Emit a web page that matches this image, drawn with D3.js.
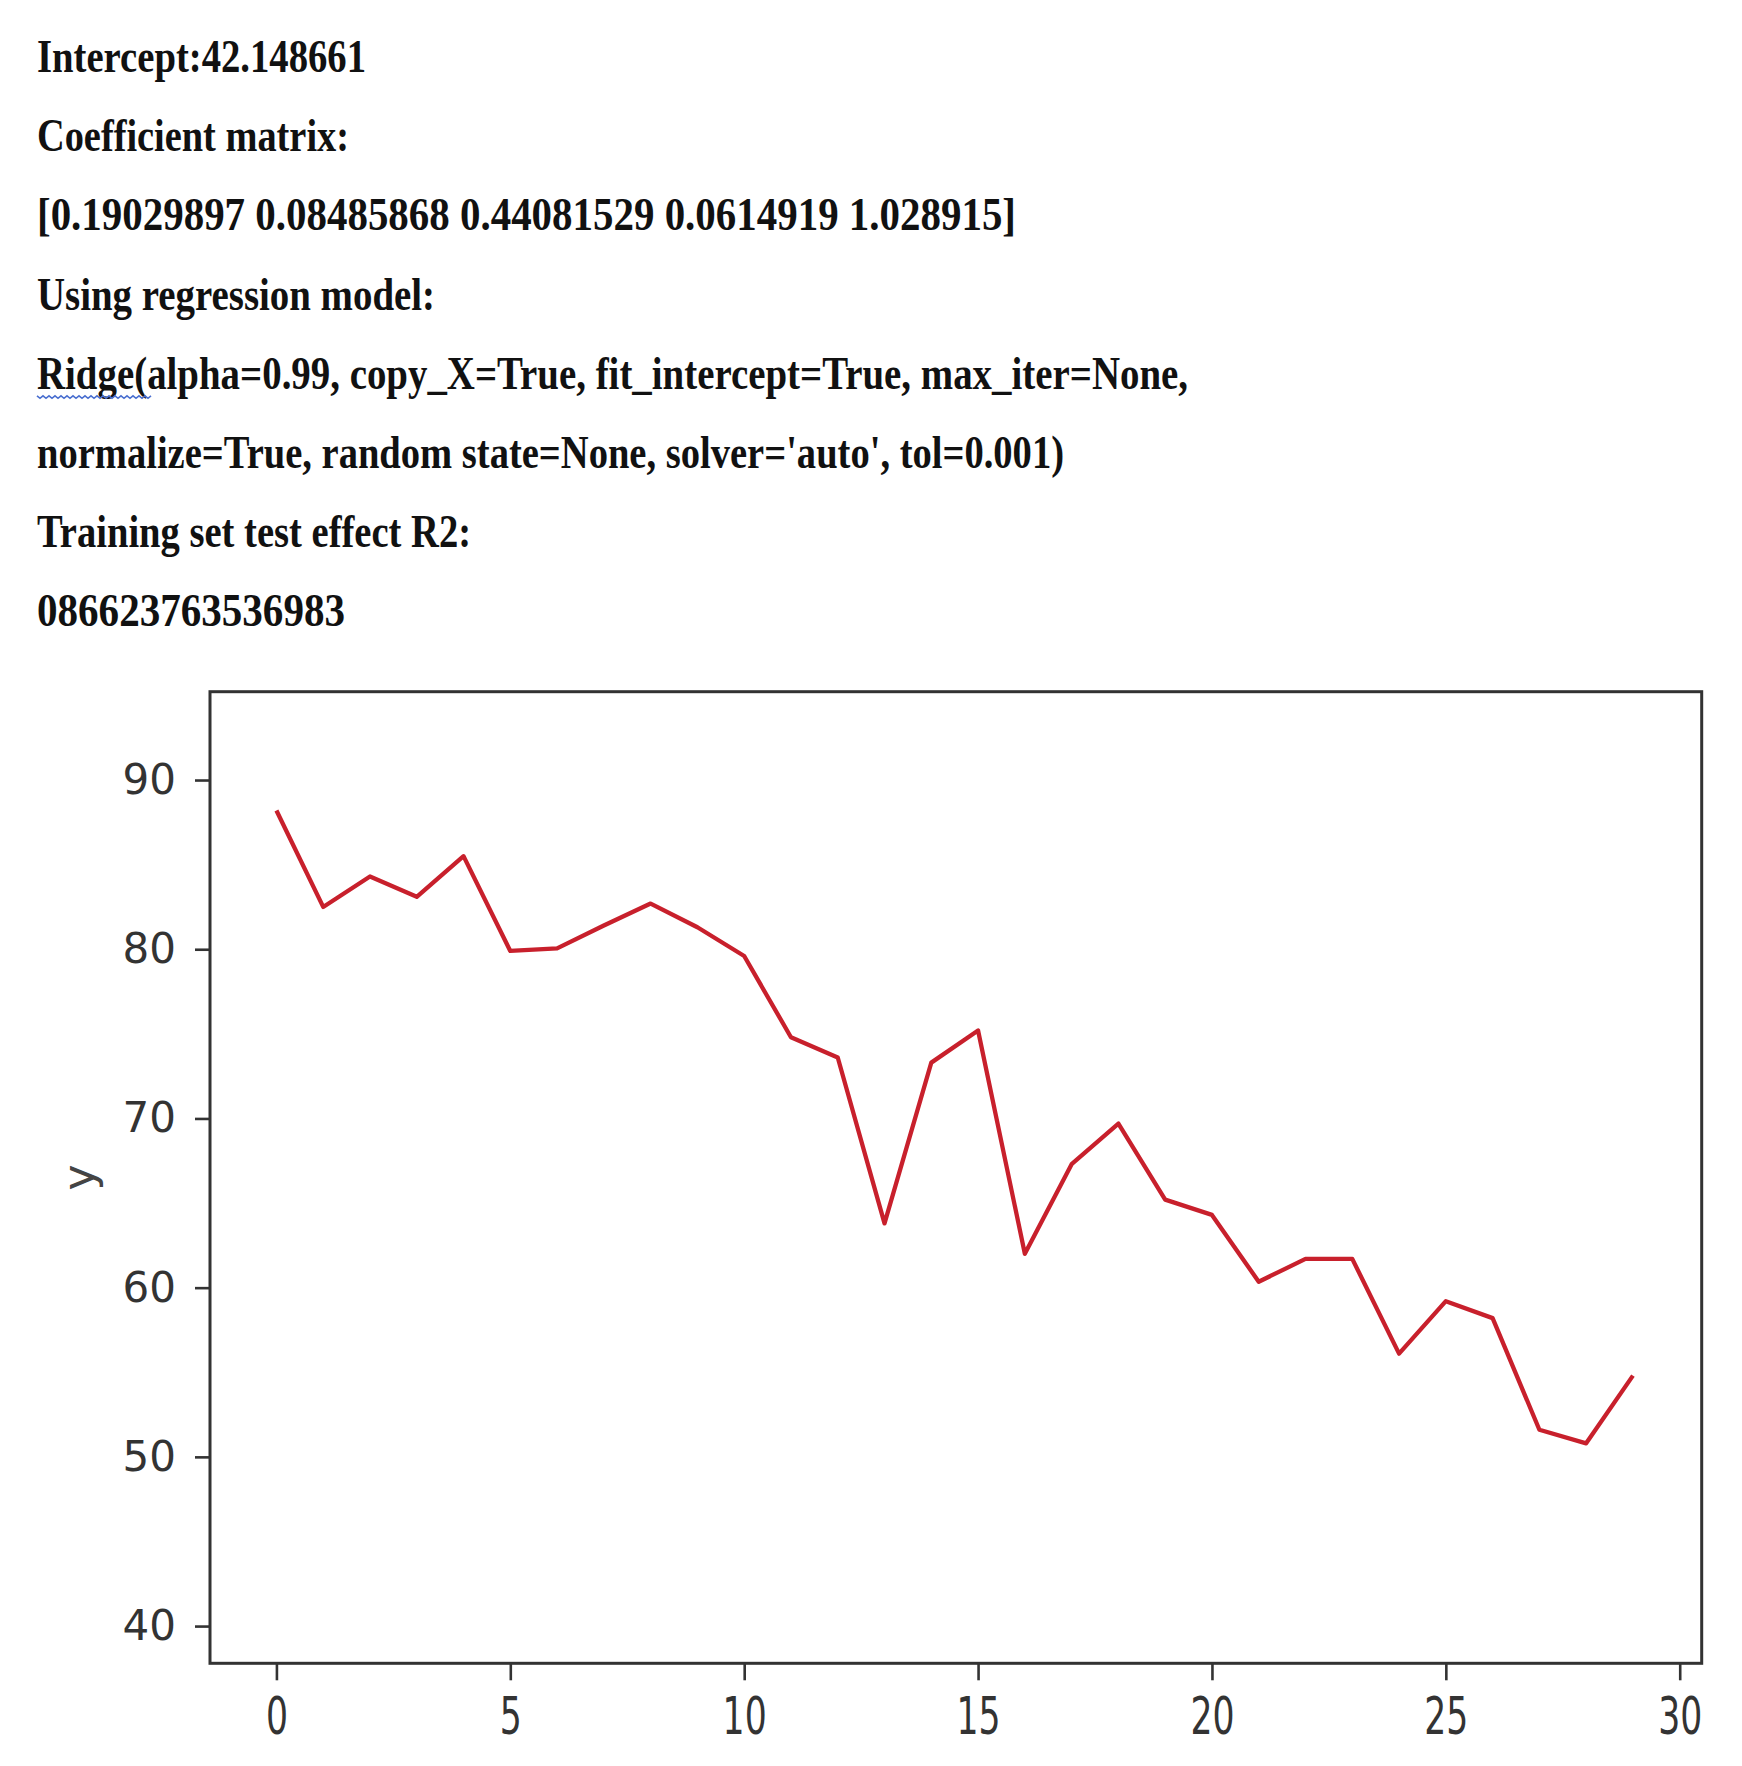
<!DOCTYPE html>
<html>
<head>
<meta charset="utf-8">
<script src="https://cdn.jsdelivr.net/npm/d3@7/dist/d3.min.js"></script>
<style>
  html, body { margin: 0; padding: 0; background: #fff; }
  svg { display: block; }
</style>
</head>
<body>
<svg id="chart" width="1742" height="1766"></svg>
<script>
// ---- Data ----
const infoLines = [
  "Intercept:42.148661",
  "Coefficient matrix:",
  "[0.19029897 0.08485868 0.44081529 0.0614919 1.028915]",
  "Using regression model:",
  "Ridge(alpha=0.99, copy_X=True, fit_intercept=True, max_iter=None,",
  "normalize=True, random state=None, solver='auto', tol=0.001)",
  "Training set test effect R2:",
  "086623763536983"
];
const xIndex = d3.range(30);
const yValues = [88.2, 82.5, 84.3, 83.1, 85.5, 79.9, 80.05, 81.4, 82.7, 81.3,
                 79.6, 74.8, 73.6, 63.8, 73.3, 75.2, 62.0, 67.3, 69.7, 65.2,
                 64.3, 60.35, 61.7, 61.7, 56.1, 59.2, 58.2, 51.6, 50.8, 54.8];
const xTicks = [0, 5, 10, 15, 20, 25, 30];
const yTicks = [40, 50, 60, 70, 80, 90];
const yLabel = "y";

// ---- Layout ----
const lineWidths = [329, 312, 979, 398, 1151, 1027, 434, 308];
const textLeft = 37, firstBaseline = 72, lineStep = 79.2;
const plot = { left: 210, right: 1701.7, top: 691.7, bottom: 1663.3 };

const svg = d3.select("#chart");
svg.append("rect").attr("width", 1742).attr("height", 1766).attr("fill", "#fff");

// Header text
svg.append("g").selectAll("text").data(infoLines).join("text")
  .attr("x", textLeft)
  .attr("y", (d, i) => firstBaseline + i * lineStep)
  .attr("textLength", (d, i) => lineWidths[i])
  .attr("lengthAdjust", "spacingAndGlyphs")
  .style("font-family", "'Liberation Serif', 'Times New Roman', serif")
  .style("font-weight", "bold")
  .style("font-size", "46px")
  .style("fill", "#111")
  .text(d => d);

// spell-check squiggle under "Ridge"
{
  const y0 = firstBaseline + 4 * lineStep + 7;
  let p = `M${textLeft},${y0}`;
  for (let xx = textLeft, k = 0; xx < textLeft + 112; xx += 3, k++) {
    p += ` L${xx + 3},${y0 + (k % 2 === 0 ? 2.5 : 0)}`;
  }
  svg.append("path").attr("d", p).attr("fill", "none")
    .attr("stroke", "#4a6fd0").attr("stroke-width", 1.6);
}

// Scales
const x = d3.scaleLinear().domain([-1.42, 30.47]).range([plot.left, plot.right]);
const y = d3.scaleLinear().domain([37.8, 95.22]).range([plot.bottom, plot.top]);

// Axes
const xAxis = svg.append("g")
  .attr("transform", `translate(0,${plot.bottom})`)
  .call(d3.axisBottom(x).tickValues(xTicks).tickSize(17).tickPadding(17).tickSizeOuter(0));
xAxis.select(".domain").remove();
xAxis.selectAll(".tick line").attr("stroke", "#333").attr("stroke-width", 2.6);
xAxis.selectAll(".tick text")
  .attr("transform", "scale(0.68,1)")
  .style("font-family", "'DejaVu Sans', sans-serif")
  .style("font-size", "51px")
  .style("fill", "#333");

const yAxis = svg.append("g")
  .attr("transform", `translate(${plot.left},0)`)
  .call(d3.axisLeft(y).tickValues(yTicks).tickSize(15).tickPadding(19).tickSizeOuter(0));
yAxis.select(".domain").remove();
yAxis.selectAll(".tick line").attr("stroke", "#333").attr("stroke-width", 2.6);
yAxis.selectAll(".tick text")
  .style("font-family", "'DejaVu Sans', sans-serif")
  .style("font-size", "42px")
  .style("fill", "#333");

// Axis label
svg.append("text")
  .attr("transform", `translate(94,${(plot.top + plot.bottom) / 2}) rotate(-90)`)
  .attr("text-anchor", "middle")
  .style("font-family", "'DejaVu Sans', sans-serif")
  .style("font-size", "44px")
  .style("fill", "#444")
  .text(yLabel);

// Frame
svg.append("rect")
  .attr("x", plot.left).attr("y", plot.top)
  .attr("width", plot.right - plot.left).attr("height", plot.bottom - plot.top)
  .attr("fill", "none").attr("stroke", "#333").attr("stroke-width", 3);

// Line
const line = d3.line().x((d, i) => x(xIndex[i])).y(d => y(d));
svg.append("path")
  .datum(yValues)
  .attr("d", line)
  .attr("fill", "none")
  .attr("stroke", "#c8202c")
  .attr("stroke-width", 4.3)
  .attr("stroke-linejoin", "round")
  .attr("stroke-linecap", "butt");
</script>
</body>
</html>
